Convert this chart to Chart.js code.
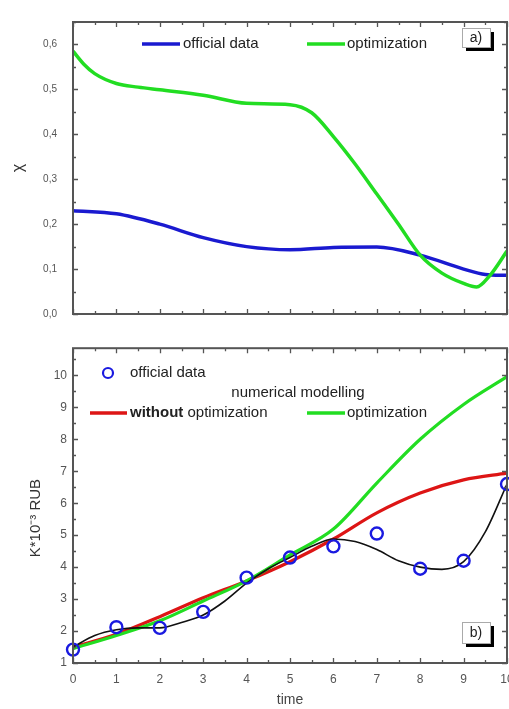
<!DOCTYPE html>
<html>
<head>
<meta charset="utf-8">
<script src="https://cdn.jsdelivr.net/npm/chart.js@4.4.0/dist/chart.umd.min.js"></script>
<style>
body{margin:0;background:#fff;}
#wrap{position:relative;width:509px;height:709px;}
#topChart{position:absolute;left:0;top:0;}
#bottomChart{position:absolute;left:0;top:335px;}
</style>
</head>
<body>
<div id="wrap">
<canvas id="topChart" width="509" height="336"></canvas>
<canvas id="bottomChart" width="509" height="374"></canvas>
</div>
<script>
// panel a) - chi vs time
const chiOfficialX=[0,1,2,3,4,5,6,7,8,9,9.5,10];
const chiOfficial=[0.23,0.223,0.2,0.17,0.15,0.143,0.148,0.149,0.131,0.1,0.088,0.086];
const chiOptX=[0,0.25,0.5,1,1.5,2,3,4,5,5.5,6,6.5,7,7.5,8,8.5,9,9.3,9.6,10];
const chiOpt=[0.585,0.556,0.535,0.513,0.505,0.499,0.487,0.469,0.466,0.448,0.395,0.334,0.267,0.2,0.131,0.091,0.068,0.06,0.085,0.14];

// panel b) - K*10^-3 RUB vs time
const years=[0,1,2,3,4,5,6,7,8,9,10];
const officialK=[1.42,2.12,2.1,2.6,3.67,4.3,4.65,5.05,3.95,4.2,6.6];
const fitX=[0,0.5,1,1.5,2,2.5,3,3.5,4,4.5,5,5.5,6,6.5,7,7.5,8,8.5,9,9.5,10];
const fitK=[1.5,1.86,2.04,2.1,2.1,2.27,2.5,2.94,3.5,3.95,4.3,4.65,4.88,4.8,4.55,4.2,4.0,3.93,4.17,5.1,6.6];
const noOptK=[1.5,1.9,2.45,3.04,3.57,4.17,4.88,5.7,6.32,6.73,6.94];
const optK=[1.45,1.86,2.32,2.94,3.57,4.38,5.19,6.63,8.0,9.09,9.96];

const pts=(xs,ys)=>xs.map((x,i)=>({x:x,y:ys[i]}));
const FONT='"Liberation Sans", Arial, sans-serif';

const panelPlugin={
  id:'panel',
  afterDraw(chart,args,o){
    const ctx=chart.ctx, ca=chart.chartArea;
    const xs=chart.scales.x, ys=chart.scales.y;
    ctx.save();
    // inward ticks on all four sides
    ctx.strokeStyle='#555';ctx.lineWidth=1.3;
    for(let v=0;v<=10.001;v+=0.5){
      const px=Math.round(xs.getPixelForValue(v))+0.5;
      const len=Number.isInteger(v)?5:3;
      ctx.beginPath();
      ctx.moveTo(px,ca.bottom);ctx.lineTo(px,ca.bottom-len);
      ctx.moveTo(px,ca.top);ctx.lineTo(px,ca.top+len);
      ctx.stroke();
    }
    const minor=o.yStep/2;
    for(let v=Math.ceil(ys.min/minor)*minor;v<=ys.max+1e-9;v+=minor){
      const py=Math.round(ys.getPixelForValue(v))+0.5;
      const major=Math.abs(v/o.yStep-Math.round(v/o.yStep))<1e-6;
      const len=major?5:3;
      ctx.beginPath();
      ctx.moveTo(ca.left,py);ctx.lineTo(ca.left+len,py);
      ctx.moveTo(ca.right,py);ctx.lineTo(ca.right-len,py);
      ctx.stroke();
    }
    // frame
    ctx.strokeStyle='#555';ctx.lineWidth=2;
    ctx.strokeRect(ca.left,ca.top,ca.right-ca.left,ca.bottom-ca.top);
    // legend
    ctx.textBaseline='middle';ctx.textAlign='left';
    o.legend.forEach(it=>{
      if(it.line){
        ctx.strokeStyle=it.color;ctx.lineWidth=it.width||3.5;
        ctx.beginPath();ctx.moveTo(it.line[0],it.y);ctx.lineTo(it.line[1],it.y);ctx.stroke();
      }
      if(it.circle){
        ctx.strokeStyle=it.color;ctx.lineWidth=2.2;
        ctx.beginPath();ctx.arc(it.circle,it.y,5,0,Math.PI*2);ctx.stroke();
      }
      let tx=it.tx;
      ctx.fillStyle='#222';
      if(it.bold){
        ctx.font='bold 15px '+FONT;
        ctx.fillText(it.bold,tx,it.y);
        tx+=ctx.measureText(it.bold).width;
      }
      ctx.font='15px '+FONT;
      if(it.center){ctx.textAlign='center';}
      ctx.fillText(it.text,tx,it.y);
      ctx.textAlign='left';
    });
    // panel label box with shadow
    const b=o.box;
    ctx.fillStyle='#000';
    ctx.fillRect(b.x+4,b.y+4,b.w,b.h);
    ctx.fillStyle='#fff';
    ctx.fillRect(b.x,b.y,b.w,b.h);
    ctx.strokeStyle='#aaa';ctx.lineWidth=1;
    ctx.strokeRect(b.x+0.5,b.y+0.5,b.w,b.h);
    ctx.fillStyle='#222';ctx.font='14px '+FONT;ctx.textAlign='center';
    ctx.fillText(b.text,b.x+b.w/2,b.y+b.h/2+1);
    ctx.restore();
  }
};

function xAxis(showLabels,height){
  return {
    type:'linear',min:0,max:10,
    border:{display:false},
    grid:{display:false,drawTicks:false},
    ticks:{display:showLabels,stepSize:1,color:'#555',font:{family:FONT,size:12},padding:9,maxRotation:0},
    title:{display:showLabels,text:'time',color:'#444',font:{family:FONT,size:14},padding:{top:0,bottom:0}},
    afterFit(s){s.height=height;s.paddingLeft=0;s.paddingRight=0;}
  };
}

new Chart(document.getElementById('topChart'),{
  type:'line',
  data:{datasets:[
    {label:'optimization',data:pts(chiOptX,chiOpt),borderColor:'#22dd22',borderWidth:3.5,pointRadius:0,cubicInterpolationMode:'monotone'},
    {label:'official data',data:pts(chiOfficialX,chiOfficial),borderColor:'#1a1ad0',borderWidth:3.5,pointRadius:0,cubicInterpolationMode:'monotone'}
  ]},
  options:{
    responsive:false,animation:false,
    layout:{autoPadding:false,padding:{top:11,right:2,left:0,bottom:0}},
    plugins:{
      legend:{display:false},tooltip:{enabled:false},
      panel:{
        yStep:0.1,
        legend:[
          {line:[142,180],y:44,color:'#1a1ad0',text:'official data',tx:183},
          {line:[307,345],y:44,color:'#22dd22',text:'optimization',tx:347}
        ],
        box:{x:462,y:28,w:28,h:19,text:'a)'}
      }
    },
    scales:{
      x:xAxis(false,4),
      y:{
        min:0,max:0.65,
        border:{display:false},
        grid:{display:false,drawTicks:false},
        ticks:{stepSize:0.1,includeBounds:false,color:'#555',font:{family:FONT,size:10},padding:16,
          callback:v=>v.toFixed(1).replace('.',',')},
        title:{display:true,text:'χ',color:'#333',font:{family:FONT,size:16},padding:{top:9,bottom:0}},
        afterFit(s){s.width=73;}
      }
    }
  },
  plugins:[panelPlugin]
});

new Chart(document.getElementById('bottomChart'),{
  type:'line',
  data:{datasets:[
    {label:'official data',data:pts(years,officialK),showLine:false,clip:false,borderColor:'#1a1ae0',backgroundColor:'rgba(0,0,0,0)',pointRadius:6,pointBorderWidth:2.4,pointStyle:'circle'},
    {label:'fit',data:pts(fitX,fitK),borderColor:'#111',borderWidth:1.6,pointRadius:0,cubicInterpolationMode:'monotone'},
    {label:'optimization',data:pts(years,optK),borderColor:'#22dd22',borderWidth:3.2,pointRadius:0,cubicInterpolationMode:'monotone'},
    {label:'without optimization',data:pts(years,noOptK),borderColor:'#dd1515',borderWidth:3.2,pointRadius:0,cubicInterpolationMode:'monotone'}
  ]},
  options:{
    responsive:false,animation:false,
    layout:{autoPadding:false,padding:{top:8,right:2,left:0,bottom:0}},
    plugins:{
      legend:{display:false},tooltip:{enabled:false},
      panel:{
        yStep:1,
        legend:[
          {circle:108,y:38,color:'#1a1ae0',text:'official data',tx:130},
          {y:58,text:'numerical modelling',tx:298,center:true},
          {line:[90,127],y:78,color:'#dd1515',bold:'without',text:' optimization',tx:130},
          {line:[307,345],y:78,color:'#22dd22',text:'optimization',tx:347}
        ],
        box:{x:462,y:287,w:28,h:21,text:'b)'}
      }
    },
    scales:{
      x:xAxis(true,46),
      y:{
        min:1,max:10.85,
        border:{display:false},
        grid:{display:false,drawTicks:false},
        ticks:{stepSize:1,includeBounds:false,color:'#555',font:{family:FONT,size:12},padding:6},
        title:{display:true,text:'K*10⁻³ RUB      ',color:'#333',font:{family:FONT,size:15},padding:{top:27,bottom:0}},
        afterFit(s){s.width=73;}
      }
    }
  },
  plugins:[panelPlugin]
});
</script>
</body>
</html>
